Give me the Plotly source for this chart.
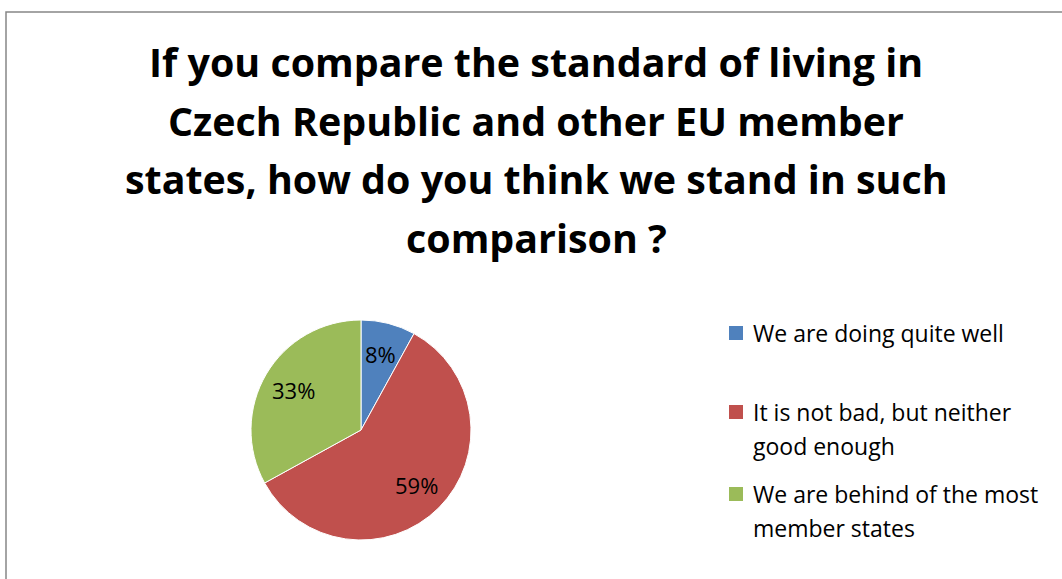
import math
import plotly.graph_objects as go

title_lines = ["If you compare the standard of living in",
               "Czech Republic and other EU member",
               "states, how do you think we stand in such",
               "comparison ?"]
categories = ["We are doing quite well",
              "It is not bad, but neither<br>good enough",
              "We are behind of the most<br>member states"]
values = [8, 59, 33]
colors = ["#4F81BD", "#C0504D", "#9BBB59"]

W, H = 1062, 579
FONT = "Open Sans"
CX, CY, R = 361, 430, 110  # pie centre / radius in pixels (layout)

fig = go.Figure()
fig.add_trace(go.Pie(
    labels=[c.replace("<br>", " ") for c in categories],
    values=values,
    sort=False,
    direction="clockwise",
    rotation=0,
    marker=dict(colors=colors, line=dict(color="white", width=1)),
    textinfo="none",
    domain=dict(x=[(CX - R) / W, (CX + R) / W], y=[(H - CY - R) / H, (H - CY + R) / H]),
    showlegend=False,
    hoverinfo="label+percent",
))

annotations = []
# title lines
title_y = [62, 121, 179, 238]
for line, yy in zip(title_lines, title_y):
    annotations.append(dict(
        text="<b>" + line + "</b>",
        x=536 / W, y=1 - yy / H, xref="paper", yref="paper",
        xanchor="center", yanchor="middle", showarrow=False, align="center",
        font=dict(family=FONT, size=39.4, color="black"),
    ))

# percentage labels placed from the slice values
total = sum(values)
cum = 0
for v in values:
    mid = (cum + v / 2) / total * 2 * math.pi
    cum += v
    px = CX + 0.71 * R * math.sin(mid)
    py = CY - 0.71 * R * math.cos(mid)
    annotations.append(dict(
        text=f"{round(100 * v / total)}%", x=px / W, y=1 - py / H,
        xref="paper", yref="paper", xanchor="center", yanchor="middle",
        showarrow=False, font=dict(family=FONT, size=22, color="black"),
    ))

shapes = [dict(type="rect", xref="paper", yref="paper",
               x0=6 / W, x1=1.05, y0=-0.05, y1=1 - 12 / H,
               line=dict(color="#868686", width=1.5), fillcolor="rgba(0,0,0,0)")]

legend_y = [333, 412, 494]
for cat, col, yy in zip(categories, colors, legend_y):
    shapes.append(dict(type="rect", xref="paper", yref="paper",
                       x0=729 / W, x1=743 / W, y0=1 - (yy + 7) / H, y1=1 - (yy - 7) / H,
                       fillcolor=col, line=dict(width=0)))
    for k, part in enumerate(cat.split("<br>")):
        annotations.append(dict(
            text=part, x=751 / W, y=1 - (yy + 34 * k) / H, xref="paper", yref="paper",
            xanchor="left", yanchor="middle", showarrow=False, align="left",
            font=dict(family=FONT, size=23, color="black"),
        ))

fig.update_layout(
    width=W, height=H,
    margin=dict(l=0, r=0, t=0, b=0),
    paper_bgcolor="white", plot_bgcolor="white",
    annotations=annotations, shapes=shapes,
)

fig.write_html("out.html", config={"displayModeBar": False},
               post_script="document.body.style.margin='0px';")
